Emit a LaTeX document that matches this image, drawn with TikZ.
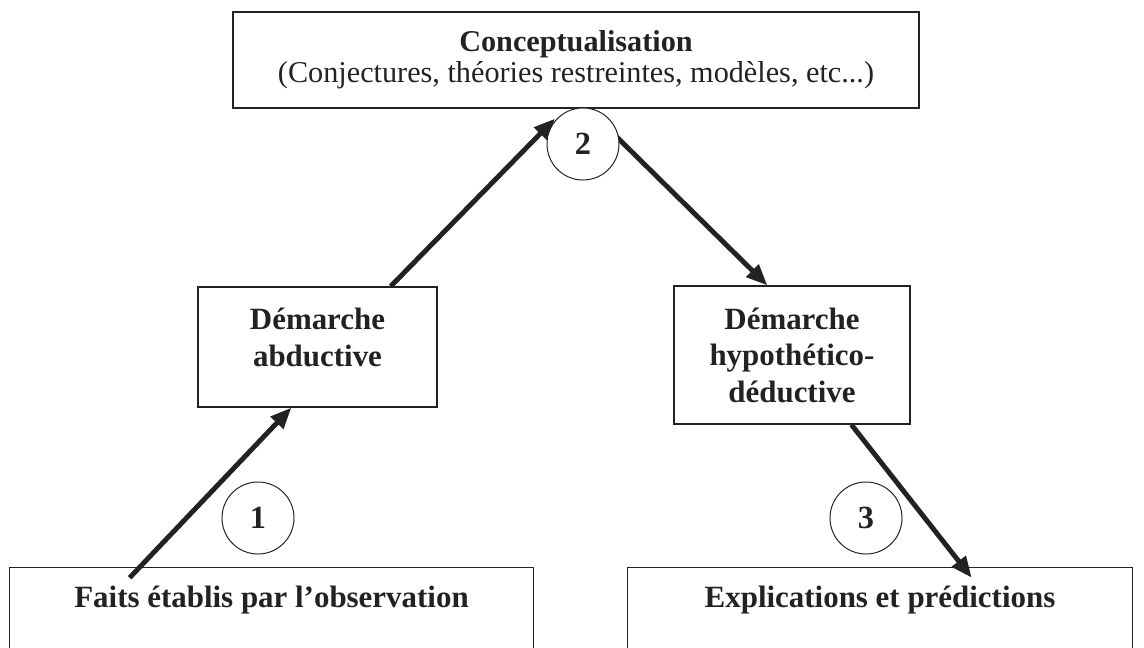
\documentclass[tikz,border=0pt]{standalone}
\usepackage{fontspec}
\setmainfont{Liberation Serif}
\usetikzlibrary{arrows.meta, positioning, calc}
\definecolor{inkgray}{RGB}{34,34,34}

\begin{document}
\begin{tikzpicture}[x=0.025cm, y=-0.025cm,
        box/.style={draw=inkgray, line width=0.9pt, align=center, text=inkgray, inner sep=0pt, font=\fontsize{22}{26}\selectfont\bfseries},
        openbox/.style={align=center, text=inkgray, inner sep=0pt, minimum height=1.6cm, font=\fontsize{22}{26}\selectfont\bfseries},
        frame/.style={draw=inkgray, line width=0.9pt},
        stage/.style={circle, draw=inkgray, line width=0.7pt, fill=white, minimum size=1.8cm, inner sep=0pt, text=inkgray, font=\fontsize{23}{26}\selectfont\bfseries},
        link/.style={-{Triangle[length=15pt,width=12pt]}, line width=3.5pt, draw=inkgray}]

        \useasboundingbox (0,0) rectangle (1144,647);

        % Boxes
        \node[box, font=\fontsize{21.5}{22}\selectfont, minimum width=17.15cm, minimum height=2.4cm] (concept) at (576,60) {\textbf{Conceptualisation}\\(Conjectures, théories restreintes, modèles, etc...)};
        \node[box, text depth=0.5cm, minimum width=5.975cm, minimum height=3cm] (abduct) at (317.5,347) {Démarche\\abductive};
        \node[box, minimum width=5.9cm, minimum height=3.45cm] (hypodeduct) at (792,355) {Démarche\\hypothético-\\déductive};
        \node[openbox, minimum width=13.075cm] (faits) at (271.5,600) {Faits établis par l’observation};
        \node[openbox, minimum width=12.6cm] (explic) at (880,600) {Explications et prédictions};

        % Open frames
        \draw[frame] ([yshift=-1cm]faits.south west) -- (faits.north west) -- (faits.north east) -- ([yshift=-1cm]faits.south east);
        \draw[frame] ([yshift=-1cm]explic.south west) -- (explic.north west) -- (explic.north east) -- ([yshift=-1cm]explic.south east);

        % Arrows
        \draw[link] ([xshift=3cm, yshift=-0.25cm]faits.north west) -- ([xshift=2.35cm]abduct.south west);
        \draw[link] ([xshift=-1.175cm]abduct.north east) -- ([xshift=-0.525cm, yshift=-0.25cm]concept.south);
        \draw[link] ([xshift=0.3cm]concept.south) -- ([xshift=2.35cm]hypodeduct.north west);
        \draw[link] ([xshift=4.45cm]hypodeduct.south west) -- ([xshift=8.6cm, yshift=-0.25cm]explic.north west);

        % Steps
        \node[stage] (step1) at (258,518) {1};
        \node[stage] (step2) at (583,144) {2};
        \node[stage] (step3) at (866,518) {3};
\end{tikzpicture}
\end{document}
